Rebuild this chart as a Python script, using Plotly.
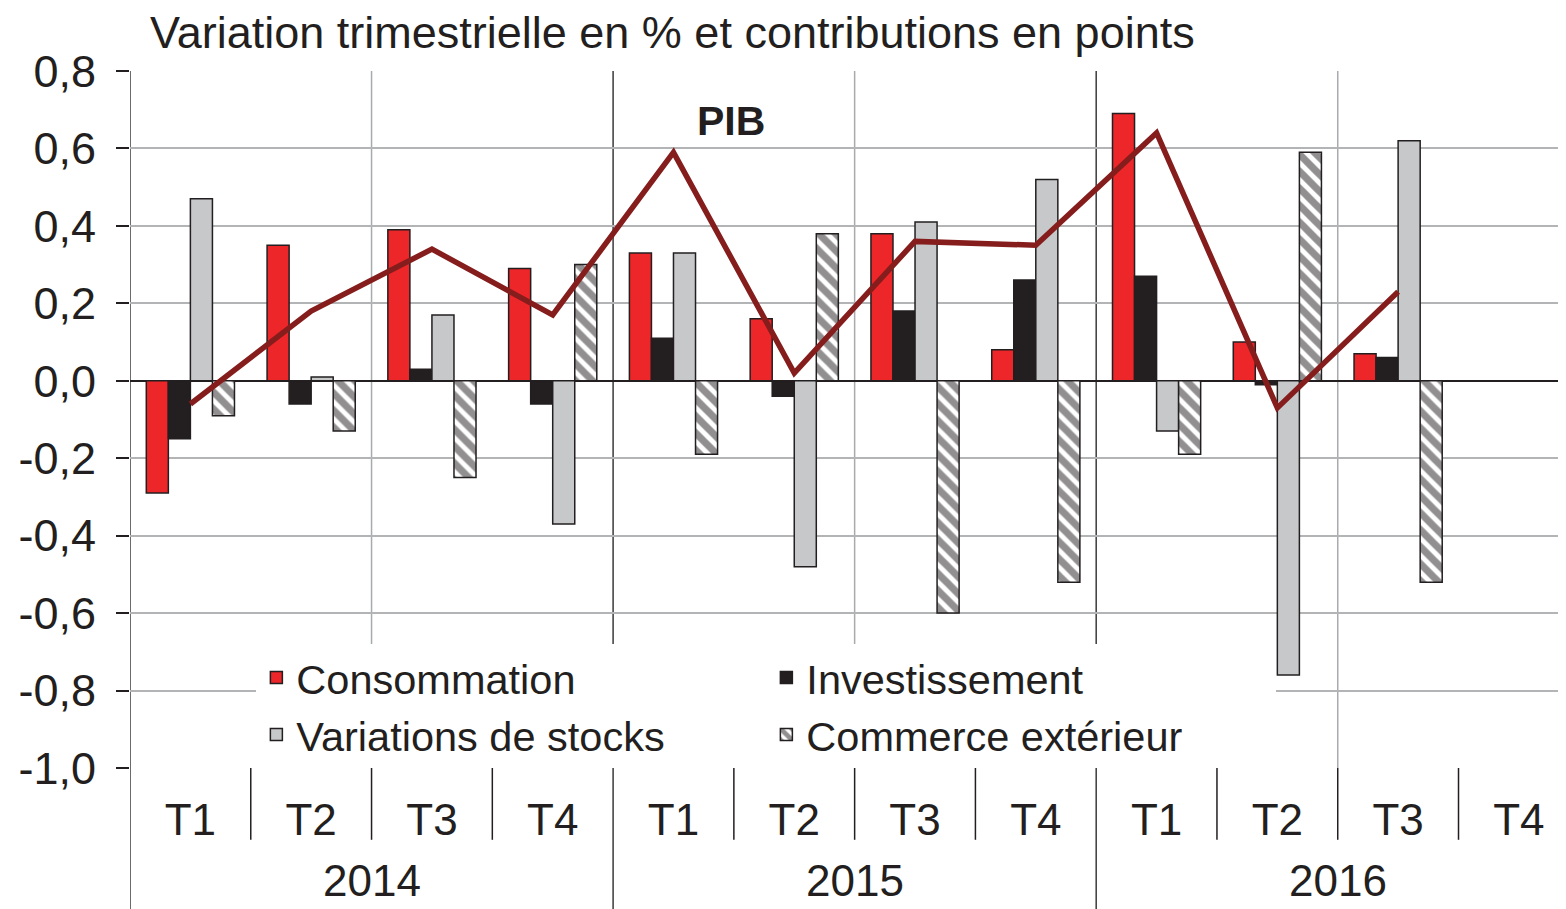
import plotly.graph_objects as go

trimestres = ["T1", "T2", "T3", "T4"] * 3
annees = ["2014", "2015", "2016"]

consommation = [-0.29, 0.35, 0.39, 0.29, 0.33, 0.16, 0.38, 0.08, 0.69, 0.10, 0.07, None]
investissement = [-0.15, -0.06, 0.03, -0.06, 0.11, -0.04, 0.18, 0.26, 0.27, -0.01, 0.06, None]
stocks = [0.47, 0.01, 0.17, -0.37, 0.33, -0.48, 0.41, 0.52, -0.13, -0.76, 0.62, None]
commerce = [-0.09, -0.13, -0.25, 0.30, -0.19, 0.38, -0.60, -0.52, -0.19, 0.59, -0.52, None]
pib = [-0.06, 0.18, 0.34, 0.17, 0.59, 0.02, 0.36, 0.35, 0.64, -0.07, 0.23]

y_ticks = [-1.0, -0.8, -0.6, -0.4, -0.2, 0.0, 0.2, 0.4, 0.6, 0.8]
y_labels = ["-1,0", "-0,8", "-0,6", "-0,4", "-0,2", "0,0", "0,2", "0,4", "0,6", "0,8"]

x = list(range(len(trimestres)))
dark = "#231f20"
font = "Liberation Sans"

bar_line = dict(color=dark, width=1.5)

fig = go.Figure()
fig.add_trace(go.Bar(x=x, y=consommation, name="Consommation",
                     marker=dict(color="#ec2629", line=bar_line)))
fig.add_trace(go.Bar(x=x, y=investissement, name="Investissement",
                     marker=dict(color=dark, line=bar_line)))
fig.add_trace(go.Bar(x=x, y=stocks, name="Variations de stocks",
                     marker=dict(color="#c7c8ca", line=bar_line)))
fig.add_trace(go.Bar(x=x, y=commerce, name="Commerce extérieur",
                     marker=dict(color="white", line=bar_line,
                                 pattern=dict(shape="\\", fgcolor=dark, bgcolor="white",
                                              size=12, solidity=0.6))))
fig.add_trace(go.Scatter(x=x[:len(pib)], y=pib, mode="lines", showlegend=False,
                         line=dict(color="#861d1d", width=5.5)))

# vertical grid / separators
for xv in [1.5, 5.5, 9.5]:
    fig.add_shape(type="line", xref="x", yref="y", x0=xv, x1=xv, y0=-1.0, y1=0.8,
                  line=dict(color="#a9aaad", width=1.5), layer="below")
for xv in [-0.5, 3.5, 7.5]:
    fig.add_shape(type="line", xref="x", yref="paper", x0=xv, x1=xv, y0=-0.21, y1=1,
                  line=dict(color="#3a3a3a", width=1.5), layer="below")
for xv in [0.5, 1.5, 2.5, 4.5, 5.5, 6.5, 8.5, 9.5, 10.5]:
    fig.add_shape(type="line", xref="x", yref="paper", x0=xv, x1=xv, y0=-0.103, y1=0,
                  line=dict(color=dark, width=1.5))

for i, an in enumerate(annees):
    fig.add_annotation(x=4 * i + 1.5, y=-0.162, xref="x", yref="paper", text=an,
                       showarrow=False, yanchor="middle",
                       font=dict(family=font, size=44, color=dark))

fig.add_annotation(x=4.48, y=0.67, xref="x", yref="y", text="<b>PIB</b>",
                   showarrow=False, font=dict(family=font, size=41, color=dark))

fig.update_layout(
    width=1558, height=901,
    margin=dict(l=122, r=0, t=63, b=141),
    paper_bgcolor="white", plot_bgcolor="white",
    barmode="group", bargap=0.27, bargroupgap=0,
    font=dict(family=font, size=44, color=dark),
    title=dict(text="Variation trimestrielle en % et contributions en points",
               xref="container", yref="container", x=142 / 1558, y=1 - 24 / 901,
               xanchor="left", yanchor="middle",
               font=dict(family=font, size=45, color=dark)),
    legend=dict(orientation="h", x=0.088, y=0.0, xanchor="left", yanchor="bottom",
                bgcolor="white", entrywidth=465, entrywidthmode="pixels",
                font=dict(family=font, size=41.5, color=dark), traceorder="normal"),
    showlegend=True,
)
fig.update_xaxes(range=[-0.5, 11.39], tickvals=x, ticktext=trimestres,
                 showgrid=False, zeroline=False, ticks="", ticklabelstandoff=22,
                 tickfont=dict(family=font, size=44, color=dark))
fig.update_yaxes(range=[-1.0, 0.8], tickvals=y_ticks, ticktext=y_labels,
                 showgrid=True, gridcolor="#b3b4b6", gridwidth=1.5,
                 zeroline=True, zerolinecolor=dark, zerolinewidth=1.5,
                 ticks="outside", ticklen=13, tickcolor=dark, tickwidth=1.5,
                 ticklabelstandoff=11,
                 tickfont=dict(family=font, size=45, color=dark))

fig.write_html("out.html")
